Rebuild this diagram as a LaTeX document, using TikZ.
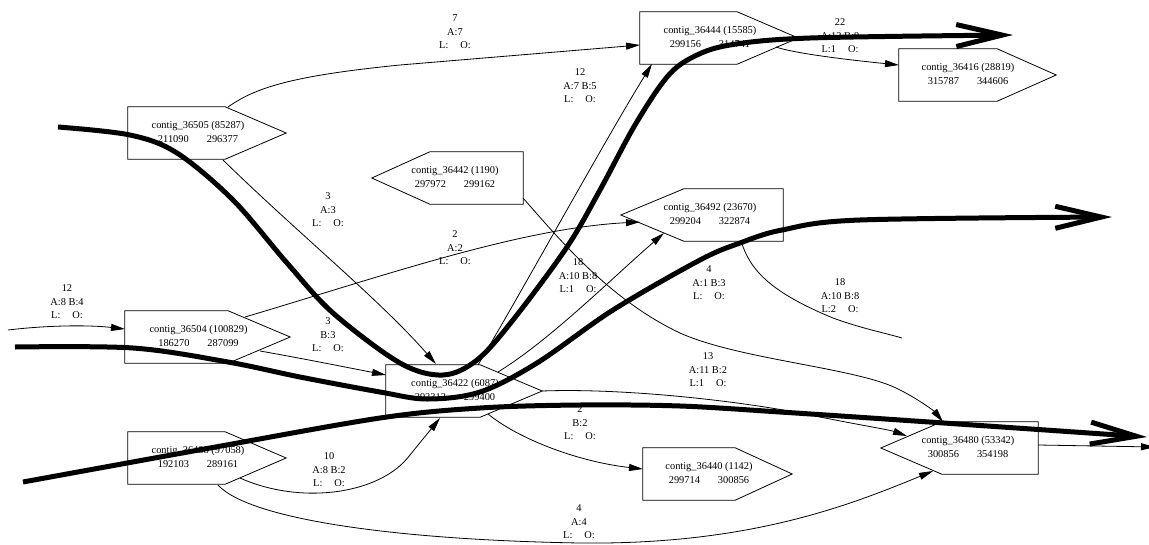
\documentclass[tikz,border=0pt]{standalone}
\usepackage{fontspec}
\setmainfont{Liberation Serif}
\usetikzlibrary{arrows.meta}
\newcommand\ctxr[3][18pt]{\begin{tabular}{@{}c@{}}#2\\#3\end{tabular}\hspace*{#1}}
\newcommand\ctxl[3][18pt]{\hspace*{#1}\begin{tabular}{@{}c@{}}#2\\#3\end{tabular}}
\newcommand\pentr[2][61]{\draw[outline] (#2.north west) -- ([xshift=-#1pt]#2.north east) -- (#2.east) -- ([xshift=-#1pt]#2.south east) -- (#2.south west) -- cycle;}
\newcommand\pentl[2][61]{\draw[outline] (#2.north east) -- ([xshift=#1pt]#2.north west) -- (#2.west) -- ([xshift=#1pt]#2.south west) -- (#2.south east) -- cycle;}
\tikzset{
  txt/.style={font=\fontsize{10.4}{13.5}\selectfont},
  contig/.style={txt, inner sep=0pt, minimum height=52pt},
  lab/.style={txt, align=center, inner sep=0pt},
  outline/.style={line width=0.8pt, line join=miter},
  conn/.style={line width=0.8pt, -{Triangle[length=14pt,width=7pt]}},
  plainconn/.style={line width=0.8pt},
  bigpath/.style={line width=5pt, line join=round, -{Straight Barb[length=46pt,width=22pt]}}
}
\begin{document}
\begin{tikzpicture}[x=1pt,y=-1pt]
\useasboundingbox (0,0) rectangle (1149,544);
% contig nodes
\node[contig, minimum width=158pt] (c36505) at (207,133) {\ctxr{contig\_36505 (85287)}{211090\hspace{18pt}296377}};
\node[contig, minimum width=158pt] (c36444) at (719,38) {\ctxr{contig\_36444 (15585)}{299156\hspace{18pt}314741}};
\node[contig, minimum width=157pt] (c36416) at (977.5,75) {\ctxr[19pt]{contig\_36416 (28819)}{315787\hspace{18pt}344606}};
\node[contig, minimum width=151pt] (c36442) at (447.5,178) {\ctxl[15pt]{contig\_36442 (1190)}{297972\hspace{18pt}299162}};
\node[contig, minimum width=162pt] (c36492) at (702,215) {\ctxl[16pt]{contig\_36492 (23670)}{299204\hspace{18pt}322874}};
\node[contig, minimum width=165pt] (c36504) at (207.5,337) {\ctxr{contig\_36504 (100829)}{186270\hspace{18pt}287099}};
\node[contig, minimum width=156pt] (c36422) at (464,391) {\ctxr{contig\_36422 (6087)}{293313\hspace{18pt}299400}};
\node[contig, minimum width=158pt] (c36488) at (207,458) {\ctxr{contig\_36488 (97058)}{192103\hspace{18pt}289161}};
\node[contig, minimum width=149pt] (c36440) at (717.5,474) {\ctxr[17pt]{contig\_36440 (1142)}{299714\hspace{18pt}300856}};
\node[contig, minimum width=157pt] (c36480) at (959.5,448) {\ctxl[17pt]{contig\_36480 (53342)}{300856\hspace{18pt}354198}};
\pentr{c36505}
\pentr{c36444}
\pentr[59]{c36416}
\pentl[58]{c36442}
\pentl[63]{c36492}
\pentr[62]{c36504}
\pentr[62]{c36422}
\pentr{c36488}
\pentr[57]{c36440}
\pentl{c36480}
% free ends
\coordinate (in0) at (8,330);
\coordinate (out1) at (1155,447);
\coordinate (out2) at (902,338);
% connectors
\draw[conn] ([shift={(21,-26)}]c36505.center) .. controls (255,88) and (290,76) .. (400,65) -- ([shift={(-79,7)}]c36444.center);
\draw[conn] ([shift={(57,9)}]c36444.center) .. controls (790,52) and (830,58) .. ([shift={(-78.5,-10)}]c36416.center);
\draw[conn] ([shift={(14,-26)}]c36422.center) .. controls (520,295) and (605,140) .. ([shift={(-67,26)}]c36444.center);
\draw[conn] ([shift={(16,27)}]c36505.center) .. controls (300,235) and (380,300) .. ([shift={(-28,-27)}]c36422.center);
\draw[conn] ([shift={(37.5,-20)}]c36504.center) .. controls (380,277) and (520,228) .. ([shift={(-62,7)}]c36492.center);
\draw[conn] ([shift={(52.5,14)}]c36504.center) .. controls (300,358) and (350,368) .. ([shift={(-78,-16)}]c36422.center);
\draw[conn] (in0) .. controls (50,325) and (90,325) .. ([shift={(-82.5,-8)}]c36504.center);
\draw[conn] ([shift={(33,20)}]c36488.center) .. controls (300,505) and (380,495) .. (410,455) .. controls (422,440) and (432,428) .. ([shift={(-24,27)}]c36422.center);
\draw[conn] ([shift={(11,27)}]c36488.center) .. controls (250,520) and (400,540) .. (580,543) .. controls (750,545) and (850,505) .. ([shift={(-26.5,23)}]c36480.center);
\draw[conn] (c36422.east) .. controls (620,388) and (740,400) .. (820,417) .. controls (860,425) and (890,430) .. ([shift={(-52.5,-12)}]c36480.center);
\draw[conn] ([shift={(75.5,20)}]c36442.center) .. controls (560,240) and (610,300) .. (680,333) .. controls (740,360) and (860,368) .. (900,390) .. controls (920,400) and (935,412) .. ([shift={(-16.5,-26)}]c36480.center);
\draw[conn] ([shift={(24,23)}]c36422.center) .. controls (520,440) and (580,462) .. ([shift={(-74.5,-5)}]c36440.center);
\draw[plainconn] ([shift={(39,26)}]c36492.center) .. controls (750,270) and (770,292) .. (833,318) .. controls (860,328) and (885,333) .. (out2);
\draw[conn] ([shift={(78.5,-3)}]c36480.center) -- (out1);
\draw[conn] ([shift={(34,-19)}]c36422.center) .. controls (550,340) and (610,280) .. ([shift={(-38,18)}]c36492.center);
% edge labels
\node[lab] (l1) at (455,32) {7\\A:7\\L:\hspace{12pt}O:};
\node[lab] (l2) at (840,36) {22\\A:13 B:9\\L:1\hspace{12pt}O:};
\node[lab] (l3) at (580,86) {12\\A:7 B:5\\L:\hspace{12pt}O:};
\node[lab] (l4) at (328,210) {3\\A:3\\L:\hspace{12pt}O:};
\node[lab] (l5) at (455,248) {2\\A:2\\L:\hspace{12pt}O:};
\node[lab] (l6) at (328,335) {3\\B:3\\L:\hspace{12pt}O:};
\node[lab] (l7) at (67,302) {12\\A:8 B:4\\L:\hspace{12pt}O:};
\node[lab] (l8) at (329,470) {10\\A:8 B:2\\L:\hspace{12pt}O:};
\node[lab] (l9) at (579,522) {4\\A:4\\L:\hspace{12pt}O:};
\node[lab] (l10) at (708,370) {13\\A:11 B:2\\L:1\hspace{12pt}O:};
\node[lab] (l11) at (578,276) {18\\A:10 B:8\\L:1\hspace{12pt}O:};
\node[lab] (l12) at (580,423) {2\\B:2\\L:\hspace{12pt}O:};
\node[lab] (l13) at (840,296) {18\\A:10 B:8\\L:2\hspace{12pt}O:};
\node[lab] (l14) at (709,283) {4\\A:1 B:3\\L:\hspace{12pt}O:};
% thick overlay paths
\draw[bigpath] plot[smooth, tension=0.55] coordinates {(58,127) (130,135) (177,153) (233,200) (287,263) (333,313) (400,363) (443,375) (477,360) (513,320) (567,247) (600,190) (635,125) (667,77) (693,57) (730,45) (810,38) (1013,35)};
\draw[bigpath] plot[smooth, tension=0.55] coordinates {(15,347) (133,348) (228,362) (300,377) (380,392) (427,399) (480,392) (537,363) (613,310) (700,260) (740,243) (782,230) (860,220) (1112,217)};
\draw[bigpath] plot[smooth, tension=0.55] coordinates {(23,482) (210,448) (380,418) (480,408) (580,405) (680,406) (780,412) (900,420) (1147,437)};
\end{tikzpicture}
\end{document}
